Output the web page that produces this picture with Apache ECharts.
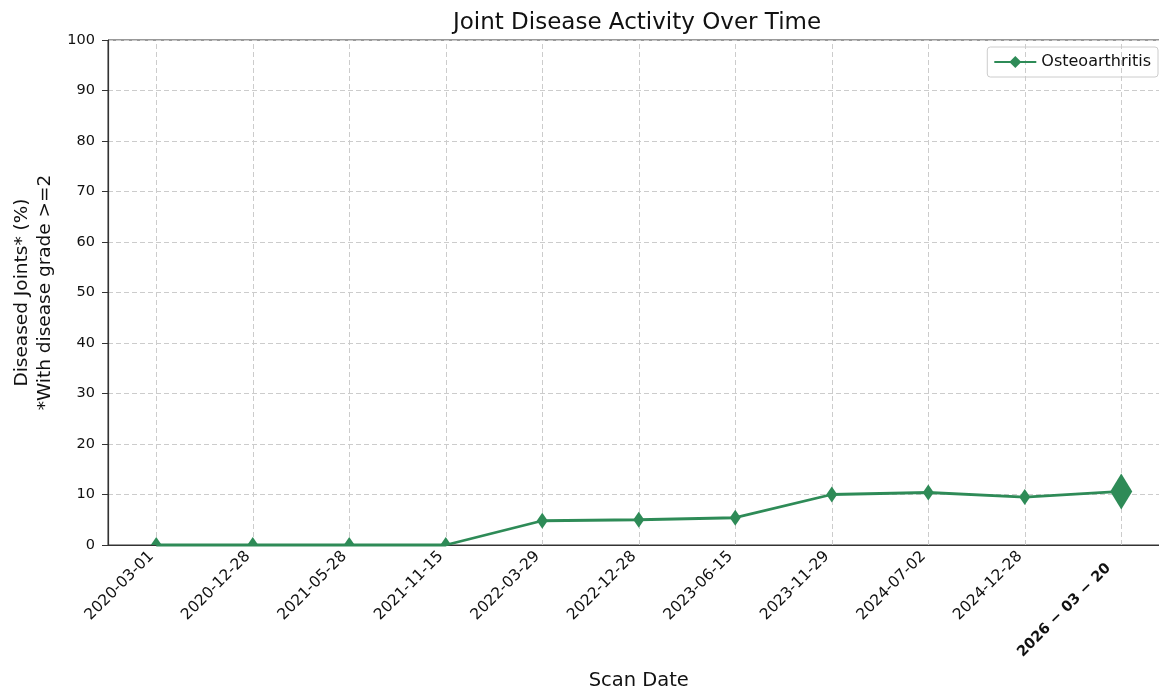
<!DOCTYPE html>
<html><head><meta charset="utf-8">
<script src="https://cdn.jsdelivr.net/npm/echarts@6/dist/echarts.min.js"></script>
<style>html,body{margin:0;padding:0;background:#fff}#c{width:1159px;height:692px}</style>
</head><body><div id="c"></div>
<script>
const categories = ['2020-03-01','2020-12-28','2021-05-28','2021-11-15','2022-03-29','2022-12-28','2023-06-15','2023-11-29','2024-07-02','2024-12-28','2026 \u2212 03 \u2212 20'];
const osteoarthritis = [0,0,0,0,4.8,5.0,5.4,10.0,10.4,9.5,10.6];
const yTicks = [0,10,20,30,40,50,60,70,80,90,100];

const color = '#2E8B57';
const font = 'DejaVu Sans';
const last = categories.length - 1;
const data = osteoarthritis.map((v,i)=>{
  if (i === last) return {value:v, symbol:'diamond', symbolSize:[22,36]};
  if (v === 0) return {value:v, symbol:'triangle', symbolSize:[11,8], symbolOffset:[0,-4]};
  return {value:v};
});
const chart = echarts.init(document.getElementById('c'));
chart.setOption({
  animation:false,
  textStyle:{fontFamily:font},
  title:{text:'Joint Disease Activity Over Time',left:632,textAlign:'center',top:7,
    textStyle:{fontFamily:font,fontSize:23,fontWeight:'normal',color:'#111'}},
  legend:{data:['Osteoarthritis'],right:1,top:47,orient:'vertical',padding:[7,7,7,6],borderColor:'#ccc',borderWidth:1,borderRadius:3,
    itemWidth:42,itemHeight:15,itemGap:6,textStyle:{fontFamily:font,fontSize:16,color:'#111'}},
  grid:{left:108,top:40,right:-10.5,bottom:147,show:true,borderColor:'#333',borderWidth:1,outerBoundsMode:'none',containLabel:false},
  xAxis:{type:'category',data:categories,boundaryGap:true,
    name:'Scan Date',nameLocation:'middle',nameGap:126,nameTextStyle:{fontFamily:font,fontSize:19.5,color:'#111'},
    axisLine:{lineStyle:{color:'#333',width:1.2}},
    axisTick:{alignWithLabel:true,length:6,lineStyle:{color:'#333'}},
    splitLine:{show:false},
    axisLabel:{rotate:45,fontSize:15.5,color:'#111',margin:14,interval:0,padding:[0,0,14,0],
      formatter:(v,i)=> i===last ? '{b|'+v+'}' : v,
      rich:{b:{fontWeight:'bold',fontSize:14.5,fontFamily:font,color:'#111',padding:[6,14,0,0]}}}},
  yAxis:{type:'value',min:0,max:100,interval:10,
    name:'Diseased Joints* (%)\n*With disease grade >=2',nameLocation:'middle',nameGap:50,
    nameTextStyle:{fontFamily:font,fontSize:18.5,color:'#111',lineHeight:23},
    axisLine:{show:true,lineStyle:{color:'#333',width:1.2}},
    axisTick:{show:true,length:6,lineStyle:{color:'#333'}},
    splitLine:{show:true,lineStyle:{color:'#ccc',type:[5,3],width:1}},
    axisLabel:{fontSize:14.5,color:'#111',margin:13,formatter:v=>yTicks.includes(v)?String(v):''}},
  series:[
    {name:'grid',type:'line',data:[],z:1,zlevel:0,silent:true,
      markLine:{silent:true,z:1,symbol:['none','none'],label:{show:false},animation:false,
        lineStyle:{color:'#ccc',type:[5,3],width:1},
        data:categories.map(c=>({xAxis:c}))}},
    {name:'Osteoarthritis',type:'line',data:data,symbol:'diamond',symbolSize:[11,16],z:3,
    lineStyle:{color:color,width:2.8},itemStyle:{color:color},clip:false}]
});
</script></body></html>
